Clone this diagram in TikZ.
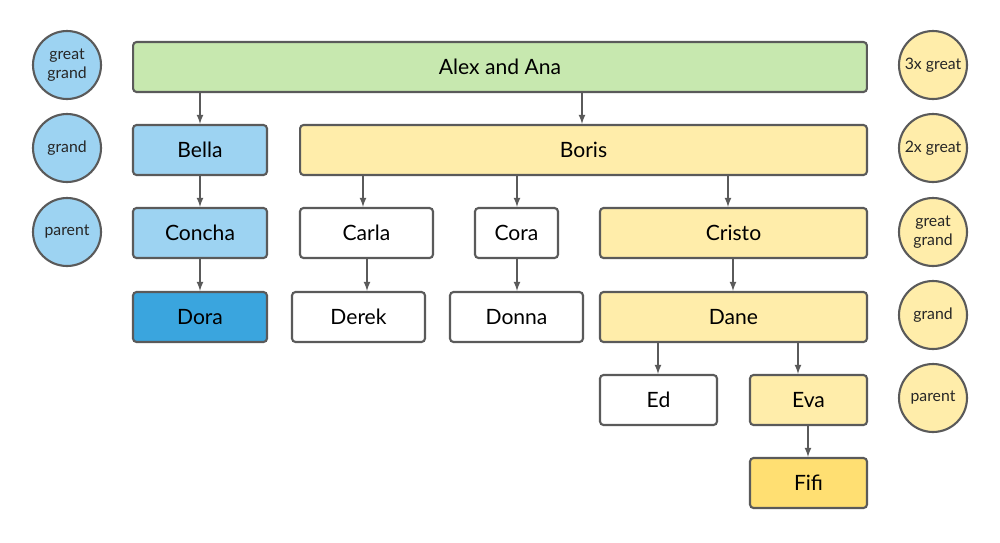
\documentclass[tikz,border=0pt]{standalone}
\usepackage{fontspec}
\setmainfont{Lato}
\definecolor{green1}{HTML}{C7E8AF}
\definecolor{blue1}{HTML}{9DD3F2}
\definecolor{blue2}{HTML}{3AA5DE}
\definecolor{yel1}{HTML}{FFEDAA}
\definecolor{yel2}{HTML}{FFDF72}
\definecolor{edge}{HTML}{5A5A5A}
\begin{document}
\begin{tikzpicture}[x=0.02cm,y=-0.02cm,
    box/.style={draw=edge,line width=1.2pt,rounded corners=2pt,minimum height=1cm,inner sep=0pt,font=\large},
    gen/.style={circle,draw=edge,line width=1.2pt,minimum size=1.36cm,inner sep=0pt,align=center,font=\small,text=black!85},
    arr/.style={-latex,draw=edge,line width=0.8pt}]
    \useasboundingbox (0,0) rectangle (1000,542);

    % boxes
    \node[box,fill=green1,minimum width=14.68cm] (alex) at (500,67) {Alex and Ana};
    \node[box,fill=blue1,minimum width=2.68cm] (bella) at (200,150) {Bella};
    \node[box,fill=yel1,minimum width=11.34cm] (boris) at (583.5,150) {Boris};
    \node[box,fill=blue1,minimum width=2.68cm] (concha) at (200,233) {Concha};
    \node[box,fill=white,minimum width=2.66cm] (carla) at (366.5,233) {Carla};
    \node[box,fill=white,minimum width=1.66cm] (cora) at (516.5,233) {Cora};
    \node[box,fill=yel1,minimum width=5.34cm] (cristo) at (733.5,233) {Cristo};
    \node[box,fill=blue2,minimum width=2.68cm] (dora) at (200,317) {Dora};
    \node[box,fill=white,minimum width=2.66cm] (derek) at (358.5,317) {Derek};
    \node[box,fill=white,minimum width=2.66cm] (donna) at (516.5,317) {Donna};
    \node[box,fill=yel1,minimum width=5.34cm] (dane) at (733.5,317) {Dane};
    \node[box,fill=white,minimum width=2.34cm] (ed) at (658.5,400) {Ed};
    \node[box,fill=yel1,minimum width=2.34cm] (eva) at (808.5,400) {Eva};
    \node[box,fill=yel2,minimum width=2.34cm] (fifi) at (808.5,483) {Fifi};

    % generations
    \node[gen,fill=blue1] (lg1) at (67,65) {great\\grand};
    \node[gen,fill=blue1] (lg2) at (67,148) {grand};
    \node[gen,fill=blue1] (lg3) at (67,232) {parent};
    \node[gen,fill=yel1] (rg1) at (933,65) {3x great};
    \node[gen,fill=yel1] (rg2) at (933,148) {2x great};
    \node[gen,fill=yel1] (rg3) at (933,232) {great\\grand};
    \node[gen,fill=yel1] (rg4) at (933,315) {grand};
    \node[gen,fill=yel1] (rg5) at (933,398) {parent};

    % links
    \foreach \a/\b/\x in {alex/bella/200,alex/boris/582,bella/concha/200,concha/dora/200,
        boris/carla/363,boris/cora/517,boris/cristo/728,carla/derek/367,cora/donna/517,
        cristo/dane/733,dane/ed/658,dane/eva/798,eva/fifi/808}
    {
    \coordinate (x) at (\x,0);
    \draw[arr] (\a.south -| x) -- (\b.north -| x);
    }

\end{tikzpicture}
\end{document}
